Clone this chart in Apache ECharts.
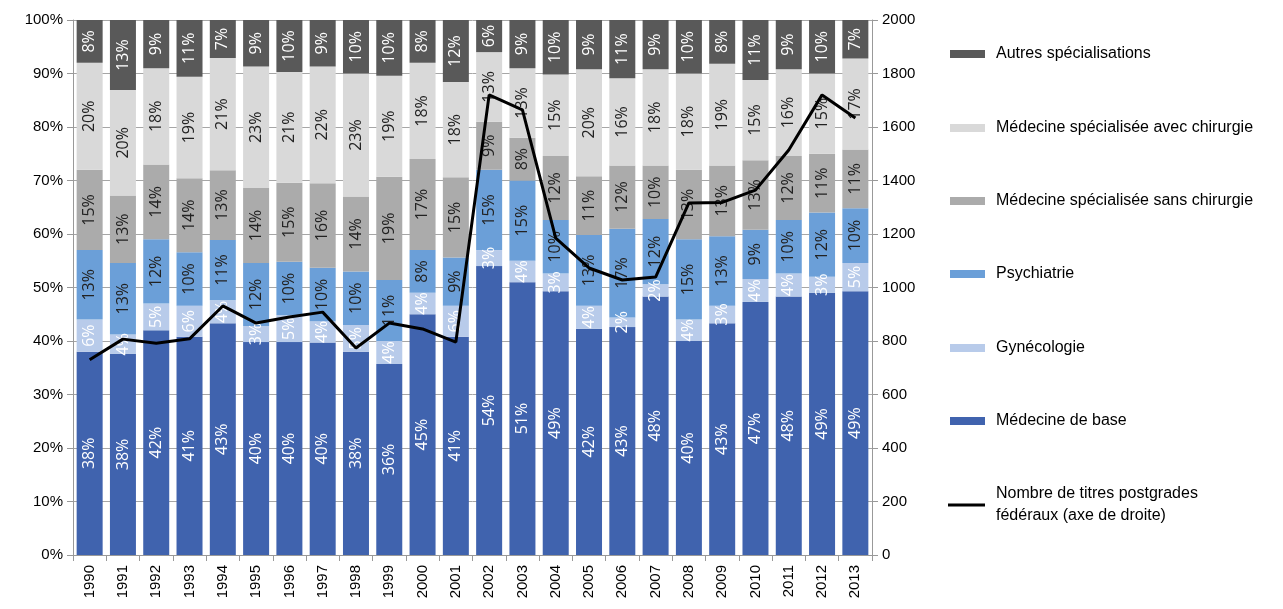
<!DOCTYPE html>
<html>
<head>
<meta charset="utf-8">
<script src="https://cdn.jsdelivr.net/npm/echarts@6/dist/echarts.min.js"></script>
<style>
    html,body{margin:0;padding:0;background:#fff;}
    #main{width:1283px;height:609px;}
</style>
</head>
<body>
<div id="main"></div>
<script>
// années
const years=['1990','1991','1992','1993','1994','1995','1996','1997','1998','1999','2000','2001',
    '2002','2003','2004','2005','2006','2007','2008','2009','2010','2011','2012','2013'];

// parts en % (de bas en haut)
const base=[38,37.6,42,40.8,43.3,39.8,39.8,39.7,38,35.7,45,40.8,54,51,49.3,42.3,42.6,48.3,40,43.3,47.3,48.3,49,49.3];
const gyneco=[6,3.6,5,5.8,4.3,3,5,4,5,4.3,4,5.8,3,4,3.3,4.3,1.8,2.3,4,3.3,4.3,4.3,3,5.3];
const psy=[13,13.4,12,10,11.3,11.8,10,10,10,11.4,8,9,15,15,10,13.2,16.6,12.2,15,13,9.2,10,12,10.2];
const sansChir=[15,12.6,14,13.8,13,14,14.8,15.8,14,19.3,17,15,9,8,12,11,11.8,10,13,13.2,13,12,11,11];
const avecChir=[20,19.7,18,19,21,22.7,20.7,21.8,23,18.9,18,17.8,13,13,15.2,20,16.3,18,18,19,15,16.2,15,17];
const autres=[8,13.1,9,10.6,7.1,8.7,9.7,8.7,10,10.4,8,11.6,6,9,10.2,9.2,10.9,9.2,10,8.2,11.2,9.2,10,7.2];

// nombre de titres postgrades fédéraux (axe de droite)
const titres=[730,807,792,808,931,867,890,908,774,867,845,796,1720,1664,1185,1073,1028,1039,1316,1318,1364,1514,1720,1634];

const names={
    autres:'Autres spécialisations',
    avec:'Médecine spécialisée avec chirurgie',
    sans:'Médecine spécialisée sans chirurgie',
    psy:'Psychiatrie',
    gyn:'Gynécologie',
    base:'Médecine de base',
    line:'Nombre de titres postgrades\nfédéraux (axe de droite)'
};

const chart=echarts.init(document.getElementById('main'));

function bar(name,data,color,labelColor){
    return {
        name:name,
        type:'bar',
        stack:'total',
        barWidth:26,
        data:data,
        itemStyle:{color:color},
        label:{
            show:true,
            position:'inside',
            rotate:90,
            color:labelColor,
            fontFamily:'Open Sans',
            fontSize:16,
            formatter:p=>Math.round(p.value)+'%'
        }
    }
}

// une légende par ligne pour placer chaque entrée
const legendRows=[
    [names.autres,41],[names.avec,115],[names.sans,188],[names.psy,261],
    [names.gyn,335],[names.base,408]
];
const legends=legendRows.map(r=>({
    data:[r[0]],
    orient:'vertical',
    left:945,
    top:r[1],
    icon:'rect',
    itemWidth:35,
    itemHeight:8,
    textStyle:{fontFamily:'Liberation Sans',fontSize:16,color:'#000',padding:[0,0,0,6]}
}));
legends.push({
    data:[names.line],
    left:943,
    top:478,
    icon:'rect',
    itemWidth:37,
    itemHeight:3,
    textStyle:{fontFamily:'Liberation Sans',fontSize:16,color:'#000',lineHeight:22,padding:[0,0,0,6]}
});

const axisLabelStyle={fontFamily:'Liberation Sans',fontSize:15,color:'#000'};

chart.setOption({
    backgroundColor:'#fff',
    animation:false,
    legend:legends,
    grid:{left:73,right:411,top:20,bottom:54},
    xAxis:{
        type:'category',
        data:years,
        axisLine:{lineStyle:{color:'#999'}},
        axisTick:{show:true,length:6,lineStyle:{color:'#999'}},
        axisLabel:{rotate:90,margin:10,fontSize:15,fontFamily:'Liberation Sans',color:'#000'}
    },
    yAxis:[
        {
            type:'value',
            min:0,max:100,interval:10,
            axisLine:{show:true,lineStyle:{color:'#999'}},
            axisTick:{show:true,length:6,lineStyle:{color:'#999'}},
            splitLine:{show:true,lineStyle:{color:'#a6a6a6'}},
            axisLabel:Object.assign({formatter:'{value}%',margin:10},axisLabelStyle)
        },
        {
            type:'value',
            min:0,max:2000,interval:200,
            axisLine:{show:true,lineStyle:{color:'#999'}},
            axisTick:{show:true,length:6,lineStyle:{color:'#999'}},
            splitLine:{show:false},
            axisLabel:Object.assign({margin:10,formatter:v=>String(v)},axisLabelStyle)
        }
    ],
    series:[
        bar(names.base,base,'#4063ae','#fff'),
        bar(names.gyn,gyneco,'#b8cbea','#fff'),
        bar(names.psy,psy,'#6b9fd8','#222'),
        bar(names.sans,sansChir,'#ababab','#222'),
        bar(names.avec,avecChir,'#d9d9d9','#222'),
        bar(names.autres,autres,'#595959','#fff'),
        {
            name:names.line,
            type:'line',
            yAxisIndex:1,
            data:titres,
            symbol:'none',
            z:10,
            itemStyle:{color:'#000'},
            lineStyle:{color:'#000',width:3}
        }
    ]
});
</script>
</body>
</html>
